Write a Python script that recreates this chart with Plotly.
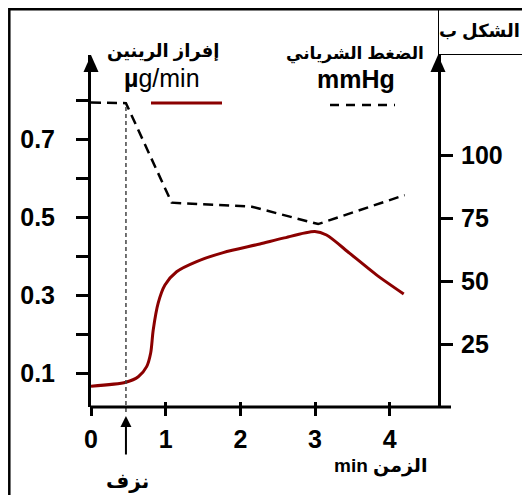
import plotly.graph_objects as go

# ---- data ----
time_renin = [0, 0.468, 0.633, 0.745, 0.799, 0.833, 0.900, 0.990, 1.146, 1.414,
              1.770, 2.261, 2.573, 2.997, 3.153, 3.465, 3.822, 4.187]
renin = [0.068, 0.078, 0.092, 0.118, 0.153, 0.212, 0.281, 0.327, 0.361, 0.387,
         0.410, 0.432, 0.447, 0.464, 0.455, 0.408, 0.353, 0.304]
time_bp = [0, 0.468, 1.08, 2.154, 3.041, 4.2]
bp = [120.8, 120.6, 81.1, 79.5, 72.6, 84.1]
bleed_time = 0.468

x_ticks = [0, 1, 2, 3, 4]
renin_ticks = [0.1, 0.2, 0.3, 0.4, 0.5, 0.6, 0.7, 0.8]
renin_ticktext = ["0.1", "", "0.3", "", "0.5", "", "0.7", ""]
bp_ticks = [25, 50, 75, 100]

# ---- geometry (page body has an 8px margin) ----
W, H = 522, 487
L, T = 83, 47
PW, PH = 347, 352
R, B = W - L - PW, H - T - PH
X_RANGE = [0, 4.646]
Y_RANGE = [0.0146, 0.916]
Y2_RANGE = [0, 139.7]
OFF = 8


def px(sx):  # screen x -> paper
    return (sx - OFF - L) / PW


def py(sy):  # screen y -> paper
    return (T + PH - (sy - OFF)) / PH


FONT = "Liberation Sans, Arial, DejaVu Sans, sans-serif"
RED = "#8b0000"

fig = go.Figure()
fig.add_trace(go.Scatter(x=time_renin, y=renin, mode="lines",
                         line=dict(color=RED, width=3, shape="spline", smoothing=0.8),
                         showlegend=False, hoverinfo="skip"))
fig.add_trace(go.Scatter(x=time_bp, y=bp, mode="lines", yaxis="y2",
                         line=dict(color="black", width=2.5, dash="10px,6px"),
                         showlegend=False, hoverinfo="skip"))
# invisible helper trace for the overlay x axis (inside tick marks)
fig.add_trace(go.Scatter(x=[None], y=[None], xaxis="x2", showlegend=False,
                         hoverinfo="skip"))

shapes = []
shapes.append(dict(type="line", xref="x", yref="paper", x0=bleed_time, x1=bleed_time,
                   y0=py(412), y1=py(104), line=dict(color="#444", width=1.5, dash="4px,3px")))
shapes.append(dict(type="line", xref="paper", yref="paper", x0=px(90), x1=px(451),
                   y0=0, y1=0, line=dict(color="black", width=3)))
for xa in (0, 1):
    shapes.append(dict(type="path", xref="paper", yref="paper", xsizemode="pixel",
                       ysizemode="pixel", xanchor=xa, yanchor=1,
                       path="M0,0 L-7.5,-17 L7.5,-17 Z", fillcolor="black",
                       line=dict(width=0)))
shapes.append(dict(type="line", xref="paper", yref="paper", x0=px(151), x1=px(222),
                   y0=py(103), y1=py(103), line=dict(color=RED, width=3)))
shapes.append(dict(type="line", xref="paper", yref="paper", x0=px(330), x1=px(395),
                   y0=py(105), y1=py(105), line=dict(color="black", width=2.5, dash="9px,7px")))
shapes.append(dict(type="rect", xref="paper", yref="paper", x0=px(9.3), x1=px(560),
                   y0=py(520), y1=py(9.3), line=dict(color="black", width=2.5)))
shapes.append(dict(type="line", xref="paper", yref="paper", x0=px(438.5), x1=px(438.5),
                   y0=py(55), y1=py(9), line=dict(color="black", width=1)))
shapes.append(dict(type="line", xref="paper", yref="paper", x0=px(438.5), x1=px(560),
                   y0=py(54.5), y1=py(54.5), line=dict(color="black", width=1)))


def ann(text, x, y, size, bold=True):
    return dict(text=text, xref="paper", yref="paper", x=px(x), y=py(y),
                xanchor="center", yanchor="middle", showarrow=False,
                font=dict(family=FONT, size=size, color="black",
                          weight="bold" if bold else "normal"))


annotations = [
    ann("إفراز الرينين", 163, 52, 18),
    ann("<b>µ</b>g/min", 162, 78, 25, bold=False),
    ann("الضغط الشرياني", 355, 54, 17),
    ann("mmHg", 356, 79, 25),
    ann("الشكل ب", 480, 31, 18),
    ann("نزف", 127, 481, 20),
    ann("min الزمن", 380, 466, 19),
    dict(text="", xref="x", yref="paper", x=bleed_time, y=py(416), ax=0, ay=40,
         showarrow=True, arrowhead=2, arrowsize=1.1, arrowwidth=2, arrowcolor="black"),
]

tickfont = dict(family=FONT, size=25, color="black", weight="bold")

fig.update_layout(
    width=W, height=H,
    margin=dict(l=L, r=R, t=T, b=B, pad=0),
    paper_bgcolor="white", plot_bgcolor="white",
    showlegend=False,
    xaxis=dict(range=X_RANGE, tickvals=x_ticks, ticks="outside", ticklen=8,
               tickwidth=2.5, tickcolor="black", showline=False, showgrid=False,
               zeroline=False, tickfont=tickfont, ticklabelstandoff=2,
               fixedrange=True),
    xaxis2=dict(range=X_RANGE, overlaying="x", anchor="y", side="bottom",
                tickvals=x_ticks[1:], ticks="inside", ticklen=5, tickwidth=2.5,
                tickcolor="black", showticklabels=False, showline=False,
                showgrid=False, zeroline=False),
    yaxis=dict(range=Y_RANGE, tickvals=renin_ticks, ticktext=renin_ticktext,
               ticks="outside", ticklen=12, tickwidth=2.5, tickcolor="black",
               showline=True, linewidth=3, linecolor="black", showgrid=False,
               zeroline=False, tickfont=tickfont, ticklabelstandoff=16),
    yaxis2=dict(range=Y2_RANGE, overlaying="y", side="right", anchor="x",
                tickvals=bp_ticks, ticks="outside", ticklen=12, tickwidth=2.5,
                tickcolor="black", showline=True, linewidth=3, linecolor="black",
                showgrid=False, zeroline=False, tickfont=tickfont,
                ticklabelstandoff=3),
    shapes=shapes,
    annotations=annotations,
)

fig.write_html("out.html")
